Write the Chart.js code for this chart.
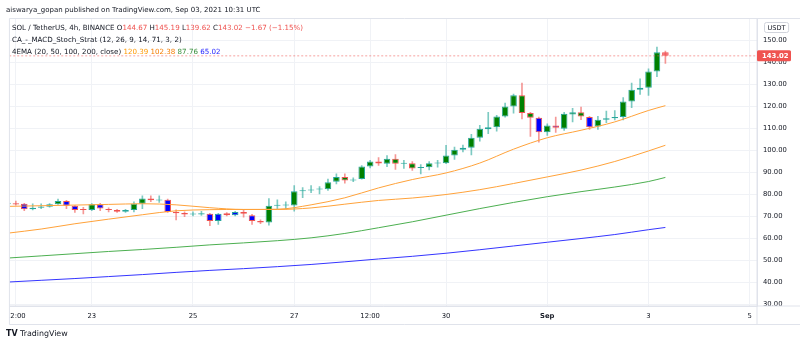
<!DOCTYPE html>
<html>
<head>
<meta charset="utf-8">
<script src="https://cdn.jsdelivr.net/npm/chart.js@4.4.1/dist/chart.umd.min.js"></script>
<style>
  html, body { margin: 0; padding: 0; background: #ffffff; }
  #wrap { width: 800px; height: 348px; position: relative; }
</style>
</head>
<body>
<div id="wrap"><canvas id="c" width="800" height="348"></canvas></div>
<script>
// SOL / USDT, 4h candles, first candle Aug 21 08:00 UTC, last Sep 03 08:00 UTC
const opens = [75.6, 76.0, 75.8, 73.3, 74.0, 74.4, 75.6, 77.0, 74.9, 73.4,
  72.9, 75.6, 73.4, 72.9, 72.2, 72.9, 75.8, 78.2, 77.3, 77.6,
  72.1, 71.6, 70.9, 70.9, 71.2, 67.9, 71.5, 70.6, 72.1, 70.6,
  67.9, 67.3, 74.9, 75.0, 75.0, 81.5, 81.8, 82.3, 82.4, 85.8,
  87.9, 86.4, 87.1, 92.7, 95.0, 94.0, 96.2, 94.0, 94.2, 92.0,
  92.4, 94.1, 94.2, 97.7, 100.3, 101.2, 105.8, 109.7, 110.6, 115.5,
  120.0, 125.1, 117.0, 114.9, 108.3, 111.4, 109.9, 116.4, 117.4, 115.2,
  110.9, 114.0, 114.7, 115.2, 122.3, 127.6, 128.5, 135.9, 144.67];
const highs = [79.0, 77.0, 76.0, 75.8, 75.8, 75.9, 77.9, 77.3, 75.0, 74.2,
  75.9, 76.0, 73.9, 73.3, 73.3, 76.7, 79.4, 79.4, 79.4, 77.9,
  73.0, 72.1, 72.1, 72.4, 71.4, 71.4, 71.8, 72.3, 73.3, 71.0,
  68.5, 78.2, 77.6, 76.7, 84.1, 83.2, 84.1, 83.6, 87.0, 89.4,
  89.4, 87.6, 93.2, 95.5, 96.8, 97.7, 98.2, 95.5, 95.0, 93.6,
  95.0, 95.5, 102.3, 101.5, 102.5, 107.3, 111.4, 117.4, 116.0, 121.5,
  125.6, 130.6, 117.4, 115.2, 112.1, 115.2, 117.4, 119.2, 119.7, 115.5,
  115.5, 117.9, 118.2, 124.0, 130.6, 132.6, 137.1, 147.0, 145.19];
const lows = [75.3, 75.1, 72.7, 73.0, 73.6, 74.2, 75.5, 73.6, 71.8, 71.2,
  72.6, 72.6, 72.1, 71.8, 71.8, 72.1, 73.6, 76.7, 76.4, 71.8,
  68.5, 69.9, 70.3, 70.5, 65.8, 66.4, 70.3, 70.3, 69.7, 66.4,
  66.7, 66.1, 73.5, 73.5, 72.4, 78.6, 80.8, 80.3, 81.8, 84.8,
  85.2, 85.8, 87.0, 92.1, 93.2, 92.7, 91.4, 91.8, 90.9, 89.4,
  91.2, 92.4, 94.0, 96.0, 99.3, 98.0, 104.2, 107.6, 108.8, 115.1,
  117.0, 114.4, 106.4, 103.8, 106.8, 108.2, 109.1, 113.0, 114.0, 109.6,
  109.6, 112.7, 113.9, 113.9, 119.5, 125.5, 125.0, 133.6, 139.62];
const closes = [76.2, 75.5, 73.3, 74.0, 74.5, 75.6, 77.0, 74.9, 73.0, 73.0,
  75.6, 73.6, 72.9, 72.2, 72.9, 75.8, 78.2, 77.4, 77.7, 72.1,
  71.5, 70.9, 71.3, 71.5, 67.9, 71.2, 70.6, 72.1, 71.2, 67.9,
  67.3, 74.9, 75.3, 75.4, 81.5, 81.8, 82.3, 82.7, 85.6, 87.9,
  86.4, 86.8, 92.7, 95.0, 94.1, 96.2, 94.0, 94.3, 91.8, 92.4,
  94.2, 94.4, 97.7, 100.3, 101.2, 105.8, 109.9, 110.6, 115.5, 120.0,
  125.1, 117.0, 114.9, 108.3, 111.4, 110.3, 116.7, 117.4, 115.5, 110.6,
  114.0, 114.7, 115.2, 122.3, 127.6, 128.5, 135.9, 144.67, 143.02];
// bar colour set by the MACD / Stoch strategy: g = green, b = blue, r = red
const strategyColor = ['g','g','b','b','b','g','g','b','b','b',
  'g','b','b','b','b','g','g','g','g','b',
  'b','b','g','b','b','b','b','b','b','b',
  'b','g','g','g','g','g','g','g','g','g',
  'g','g','g','g','g','g','g','g','g','g',
  'g','g','g','g','g','g','g','g','g','g',
  'g','g','g','b','g','b','g','g','g','b',
  'g','g','g','g','g','g','g','g','r'];

// 4EMA (20, 50, 100, 200) sampled at these candle numbers
const emaIndex = [0, 4, 8, 12, 16, 20, 24, 28, 32, 36, 40, 44, 48, 52, 56, 60, 64, 68, 72, 76, 78];
const ema20 = [74.6, 74.9, 75.2, 75.5, 75.8, 75.3, 74.0, 73.2, 73.3, 75.3, 78.5, 83.0, 86.8, 89.8, 94.3, 100.6, 105.8, 109.2, 113.0, 118.2, 120.39];
const ema50 = [62.4, 64.3, 66.7, 68.8, 70.8, 72.6, 73.1, 73.2, 73.2, 73.9, 75.6, 77.3, 78.4, 80.0, 82.2, 85.0, 88.0, 91.1, 95.0, 99.8, 102.38];
const ema100 = [51.1, 52.1, 53.1, 54.1, 55.0, 56.0, 57.1, 58.0, 59.0, 60.3, 62.3, 64.9, 67.6, 70.6, 73.6, 76.4, 79.0, 81.3, 83.4, 85.9, 87.76];
const ema200 = [40.2, 41.0, 41.8, 42.7, 43.6, 44.6, 45.5, 46.3, 47.2, 48.2, 49.4, 50.7, 51.9, 53.3, 54.9, 56.6, 58.3, 60.0, 61.8, 64.0, 65.02];

// time axis labels (candle number -> text) and price axis ticks
const timeTickIndex = [1, 10, 22, 34, 43, 52, 64, 76, 88];
const timeTickText = ['12:00', '23', '25', '27', '12:00', '30', 'Sep', '3', '5'];
const priceTicks = [30, 40, 50, 60, 70, 80, 90, 100, 110, 120, 130, 140, 150];

const FONT = '"DejaVu Sans", Verdana, sans-serif';
const TEXT = '#131722';
const UP = '#26a69a', DOWN = '#ef5350';
const UP_WICK = 'rgba(38,166,154,0.6)', DOWN_WICK = 'rgba(239,83,80,0.6)';
const FILL = { g: '#008000', b: '#0000ff', r: '#f4525a' };
const GRID = '#f0f2f6', FRAME = '#e0e3eb';

const n = closes.length;
const rising = closes.map((c, i) => c >= opens[i]);
const lastClose = closes[n - 1];

const wickData = highs.map((h, i) => ({ x: i, y: [lows[i], h] }));
const bodyData = opens.map((o, i) => ({ x: i, y: [o, closes[i]] }));
const emaLine = arr => emaIndex.map((x, k) => ({ x, y: arr[k] }));

function roundRect(ctx, x, y, w, h, r) {
  ctx.beginPath();
  ctx.moveTo(x + r, y);
  ctx.arcTo(x + w, y, x + w, y + h, r);
  ctx.arcTo(x + w, y + h, x, y + h, r);
  ctx.arcTo(x, y + h, x, y, r);
  ctx.arcTo(x, y, x + w, y, r);
  ctx.closePath();
}

// legend text, drawn left to right in coloured pieces
function drawRuns(ctx, x, y, runs) {
  for (const [text, color] of runs) {
    ctx.font = '7.1px ' + FONT;
    ctx.fillStyle = color;
    ctx.fillText(text, x, y);
    x += ctx.measureText(text).width;
  }
}

const AXIS_BOTTOM = 324.5;

const paneDecor = {
  id: 'paneDecor',
  afterDraw(chart) {
    const { ctx, chartArea: a, scales } = chart;
    const W = chart.width;
    ctx.save();

    // labels that run past the pane edges are cut off
    ctx.fillStyle = '#ffffff';
    ctx.fillRect(0, a.bottom + 0.5, a.left, AXIS_BOTTOM - a.bottom);
    ctx.fillRect(a.right + 0.5, a.bottom + 0.5, W - a.right, 8);

    // pane and axis frame
    ctx.strokeStyle = FRAME;
    ctx.lineWidth = 1;
    ctx.beginPath();
    ctx.moveTo(a.left, a.top); ctx.lineTo(W, a.top);
    ctx.moveTo(a.left, a.top); ctx.lineTo(a.left, AXIS_BOTTOM);
    ctx.moveTo(a.left, a.bottom); ctx.lineTo(W, a.bottom);
    ctx.moveTo(a.left, AXIS_BOTTOM); ctx.lineTo(W, AXIS_BOTTOM);
    ctx.moveTo(a.right, a.top); ctx.lineTo(a.right, AXIS_BOTTOM);
    ctx.stroke();

    ctx.textBaseline = 'middle';
    ctx.textAlign = 'left';

    // last price marker on the price axis
    const py = scales.y.getPixelForValue(lastClose);
    ctx.fillStyle = rising[n - 1] ? UP : DOWN;
    roundRect(ctx, a.right, py - 5.5, 34, 11, 1.5);
    ctx.fill();
    ctx.fillStyle = '#ffffff';
    ctx.font = 'bold 6.9px ' + FONT;
    ctx.fillText(lastClose.toFixed(2), a.right + 5, py + 0.5);

    // currency badge
    ctx.font = '6.6px ' + FONT;
    const uw = ctx.measureText('USDT').width + 6;
    ctx.fillStyle = '#ffffff';
    ctx.strokeStyle = '#d1d4dc';
    roundRect(ctx, 764.5, 22.5, uw, 10, 2);
    ctx.fill(); ctx.stroke();
    ctx.fillStyle = TEXT;
    ctx.fillText('USDT', 767.5, 28);

    // publication line
    ctx.font = '7px ' + FONT;
    ctx.fillStyle = TEXT;
    ctx.fillText('aiswarya_gopan published on TradingView.com, Sep 03, 2021 10:31 UTC', 6, 10);

    // legend rows
    const red = DOWN;
    drawRuns(ctx, 12, 28, [
      ['SOL / TetherUS, 4h, BINANCE ', TEXT],
      ['O', TEXT], [opens[n - 1].toFixed(2) + ' ', red],
      ['H', TEXT], [highs[n - 1].toFixed(2) + ' ', red],
      ['L', TEXT], [lows[n - 1].toFixed(2) + ' ', red],
      ['C', TEXT], [lastClose.toFixed(2) + ' ', red],
      ['\u22121.67 (\u22121.15%)', red]
    ]);
    drawRuns(ctx, 12, 40.5, [['CA_-_MACD_Stoch_Strat (12, 26, 9, 14, 71, 3, 2)', TEXT]]);
    drawRuns(ctx, 12, 52.5, [
      ['4EMA (20, 50, 100, 200, close) ', TEXT],
      [ema20[ema20.length - 1].toFixed(2) + ' ', '#ff9800'],
      [ema50[ema50.length - 1].toFixed(2) + ' ', '#f57c00'],
      [ema100[ema100.length - 1].toFixed(2) + ' ', '#388e3c'],
      [ema200[ema200.length - 1].toFixed(2), '#1f1fff']
    ]);

    // footer logo
    ctx.fillStyle = TEXT;
    ctx.font = 'bold 8px ' + FONT;
    ctx.fillText('TV', 6, 334);
    ctx.font = '7.9px ' + FONT;
    ctx.fillText('TradingView', 20, 334);

    ctx.restore();
  }
};

new Chart(document.getElementById('c'), {
  type: 'bar',
  data: {
    datasets: [
      { type: 'line', label: 'EMA 20', data: emaLine(ema20), borderColor: '#ffa23a', borderWidth: 1, pointRadius: 0, cubicInterpolationMode: 'monotone', order: 1 },
      { type: 'line', label: 'EMA 50', data: emaLine(ema50), borderColor: '#ffa23a', borderWidth: 1, pointRadius: 0, cubicInterpolationMode: 'monotone', order: 1 },
      { type: 'line', label: 'EMA 100', data: emaLine(ema100), borderColor: '#4caf50', borderWidth: 1, pointRadius: 0, cubicInterpolationMode: 'monotone', order: 1 },
      { type: 'line', label: 'EMA 200', data: emaLine(ema200), borderColor: '#3535ff', borderWidth: 1, pointRadius: 0, cubicInterpolationMode: 'monotone', order: 1 },
      { type: 'line', label: 'Last price', data: [{ x: -5, y: lastClose }, { x: 95, y: lastClose }], borderColor: 'rgba(239,83,80,0.55)', borderDash: [2, 2], borderWidth: 1, pointRadius: 0, order: 0 },
      { label: 'Wicks', data: wickData, backgroundColor: rising.map(u => u ? UP_WICK : DOWN_WICK), barThickness: 1, grouped: false, order: 3 },
      { label: 'Bodies', data: bodyData, backgroundColor: strategyColor.map(c => FILL[c]), borderColor: rising.map(u => u ? UP : DOWN), borderWidth: 1, borderSkipped: false, barPercentage: 0.78, categoryPercentage: 1, minBarLength: 1, grouped: false, order: 2 }
    ]
  },
  options: {
    responsive: false,
    animation: false,
    devicePixelRatio: 1,
    layout: { padding: { left: 5.5, top: 18.5, right: 0, bottom: 348 - AXIS_BOTTOM } },
    plugins: { legend: { display: false }, tooltip: { enabled: false } },
    scales: {
      x: {
        type: 'linear', min: 0.24, max: 88.86, offset: false,
        grid: { color: GRID, drawTicks: false, offset: false },
        border: { color: FRAME },
        afterBuildTicks: s => { s.ticks = timeTickIndex.map(v => ({ value: v })); },
        afterFit: s => { s.height = AXIS_BOTTOM - 306; },
        ticks: {
          autoSkip: false, maxRotation: 0, padding: 6, color: TEXT,
          font: c => ({ family: FONT, size: 6.8, weight: timeTickText[c.index] === 'Sep' ? 'bold' : 'normal' }),
          callback: (v, i) => timeTickText[i]
        }
      },
      y: {
        type: 'linear', position: 'right', min: 29.32, max: 160,
        grid: { color: GRID, drawTicks: false },
        border: { color: FRAME },
        afterBuildTicks: s => { s.ticks = priceTicks.map(v => ({ value: v })); },
        afterFit: s => { s.width = 43; },
        ticks: { padding: 6, color: TEXT, font: { family: FONT, size: 6.8 }, callback: v => v.toFixed(2) }
      }
    }
  },
  plugins: [paneDecor]
});
</script>
</body>
</html>
